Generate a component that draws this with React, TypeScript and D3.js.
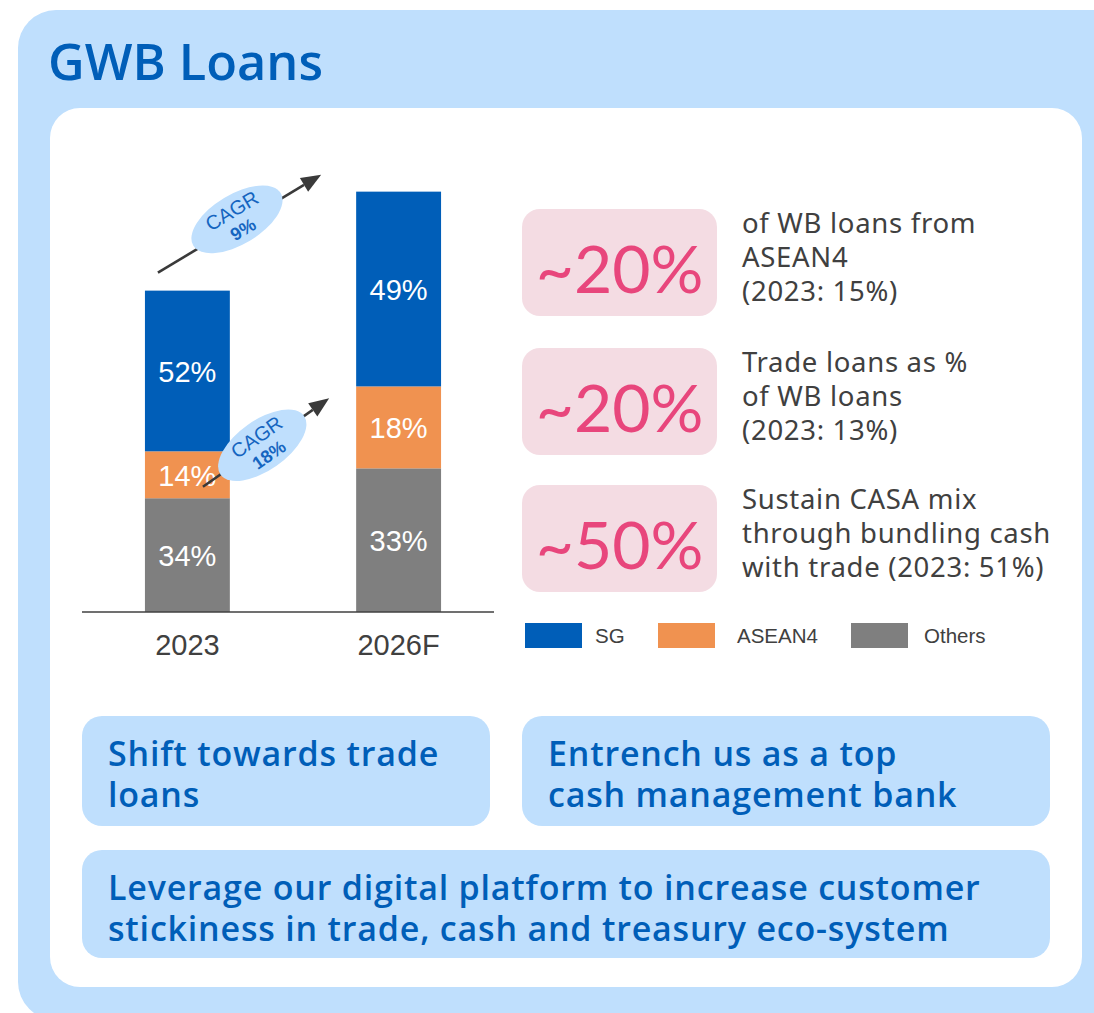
import React from 'react';
import * as d3 from 'd3';

// bar data (2023 = 100 index)
const years = ['2023', '2026F'];
const sgValues = [50.0, 60.6];
const aseanValues = [14.6, 25.5];
const otherValues = [35.4, 44.7];
const sgLabels = ['52%', '49%'];
const aseanLabels = ['14%', '18%'];
const otherLabels = ['34%', '33%'];
const cagrLabels = ['9%', '18%'];

const legendNames = ['SG', 'ASEAN4', 'Others'];
const kpiValues = ['~20%', '~20%', '~50%'];
const kpiLines = [
  ['of WB loans from', 'ASEAN4', '(2023: 15%)'],
  ['Trade loans as %', 'of WB loans', '(2023: 13%)'],
  ['Sustain CASA mix', 'through bundling cash', 'with trade (2023: 51%)'],
];
const themeLines = [
  ['Shift towards trade', 'loans'],
  ['Entrench us as a top', 'cash management bank'],
  ['Leverage our digital platform to increase customer', 'stickiness in trade, cash and treasury eco-system'],
];

const colors: Record<string, string> = { SG: '#005EB8', ASEAN4: '#F09250', Others: '#7F7F7F' };
const lightBlue = '#BFDFFD';
const darkBlue = '#005EB8';
const grey = '#404040';
const geo = 'Lato, "Noto Sans", sans-serif';
const noto = '"Noto Sans", Lato, sans-serif';
const open = '"Open Sans", "Noto Sans", sans-serif';
const arial = '"Liberation Sans", Arial, sans-serif';

const Arrow = ({ x1, y1, x2, y2, label, t = 0.5, off = 0 }: any) => {
  const ang = Math.atan2(y2 - y1, x2 - x1);
  const deg = (ang * 180) / Math.PI;
  const head = 20;
  const bx = x2 - head * Math.cos(ang);
  const by = y2 - head * Math.sin(ang);
  const nx = -Math.sin(ang), ny = Math.cos(ang);
  const tri = [
    [x2, y2],
    [bx + nx * 8, by + ny * 8],
    [bx - nx * 8, by - ny * 8],
  ];
  const cx = x1 + (x2 - x1) * t + nx * off;
  const cy = y1 + (y2 - y1) * t + ny * off;
  return (
    <g>
      <line x1={x1} y1={y1} x2={bx} y2={by} stroke="#3a3a3a" strokeWidth={2.6} />
      <polygon points={tri.map(p => p.join(',')).join(' ')} fill="#3a3a3a" />
      <g transform={`translate(${cx},${cy}) rotate(${deg})`}>
        <ellipse rx={51} ry={25} fill={lightBlue} />
        <text y={-3} textAnchor="middle" fontFamily={arial} fontSize={20} fill="#1565C0">CAGR</text>
        <text y={18} textAnchor="middle" fontFamily={arial} fontSize={18} fontWeight="bold" fill="#1565C0">{label}</text>
      </g>
    </g>
  );
};

export default function App() {
  const rows = years.map((yr, i) => ({ year: yr, Others: otherValues[i], ASEAN4: aseanValues[i], SG: sgValues[i] }));
  const keys = ['Others', 'ASEAN4', 'SG'];
  const labels: Record<string, string[]> = { Others: otherLabels, ASEAN4: aseanLabels, SG: sgLabels };
  const stacked = d3.stack<any>().keys(keys)(rows);

  const x = d3.scaleBand().domain(years).range([82, 504]).paddingInner(0.598).paddingOuter(0.298);
  const y = d3.scaleLinear().domain([0, 131]).range([612, 191]);
  const bw = x.bandwidth();

  const top = (i: number) => y(stacked[2][i][1]);
  const aseanMid = (i: number) => y((stacked[1][i][0] + stacked[1][i][1]) / 2);

  return (
    <div style={{ position: 'fixed', left: 0, top: 0 }}>
      <svg width={1094} height={1013} style={{ display: 'block', background: '#fff' }}>
        <rect x={18} y={10} width={1120} height={1010} rx={38} fill={lightBlue} />
        <text x={48} y={80} fontFamily={open} fontWeight={600} fontSize={50.5} fill={darkBlue}>GWB Loans</text>
        <rect x={50} y={108} width={1032} height={879} rx={30} fill="#fff" />

        {/* stacked bars */}
        {stacked.map(s => (
          <g key={s.key}>
            {s.map((d: any, i: number) => (
              <g key={i}>
                <rect x={x(years[i])} y={y(d[1])} width={bw} height={y(d[0]) - y(d[1])} fill={colors[s.key]} />
                <text x={(x(years[i]) as number) + bw / 2} y={(y(d[0]) + y(d[1])) / 2 + 11}
                  textAnchor="middle" fontFamily={arial} fontSize={29} fill="#fff">{labels[s.key][i]}</text>
              </g>
            ))}
          </g>
        ))}
        <line x1={82} x2={494} y1={y(0)} y2={y(0)} stroke={grey} strokeWidth={1.6} />
        {years.map(yr => (
          <text key={yr} x={(x(yr) as number) + bw / 2} y={y(0) + 43} textAnchor="middle"
            fontFamily={arial} fontSize={29} fill={grey}>{yr}</text>
        ))}

        <Arrow x1={(x('2023') as number) + 13} y1={top(0) - 18} x2={(x('2026F') as number) - 35} y2={top(1) - 17}
          label={cagrLabels[0]} t={0.5} off={-5} />
        <Arrow x1={(x('2023') as number) + 58} y1={aseanMid(0) + 12} x2={(x('2026F') as number) - 27} y2={aseanMid(1) - 29}
          label={cagrLabels[1]} t={0.47} off={0} />

        {/* KPI boxes */}
        {kpiValues.map((v, i) => {
          const ty = [209, 348, 485][i];
          return (
            <g key={i}>
              <rect x={522} y={ty} width={195} height={107} rx={18} fill="#F4DCE3" />
              <text x={619.5} y={ty + 84} textAnchor="middle" fontFamily={geo} fontSize={66} fill="#E8467C">{v}</text>
              <text x={742} y={ty + 24} fontFamily={noto} fontSize={27.5} letterSpacing={0.7} fill={grey}>
                {kpiLines[i].map((l, j) => (
                  <tspan key={j} x={742} dy={j === 0 ? 0 : 34}>{l}</tspan>
                ))}
              </text>
            </g>
          );
        })}

        {/* legend */}
        {legendNames.map((n, i) => {
          const lx = [525, 658, 851][i];
          const tx = [595, 737, 924][i];
          return (
            <g key={n}>
              <rect x={lx} y={623} width={57} height={25} fill={colors[n]} />
              <text x={tx} y={643} fontFamily={arial} fontSize={20.5} fill={grey}>{n}</text>
            </g>
          );
        })}

        {/* theme boxes */}
        {themeLines.map((lines, i) => {
          const bx = [82, 522, 82][i];
          const by = [716, 716, 850][i];
          const w = [408, 528, 968][i];
          const h = [110, 110, 108][i];
          return (
            <g key={i}>
              <rect x={bx} y={by} width={w} height={h} rx={20} fill={lightBlue} />
              <text x={bx + 26} y={by + 50} fontFamily={open} fontWeight={600} fontSize={34}
                letterSpacing={0.8} fill={darkBlue}>
                {lines.map((l, j) => (
                  <tspan key={j} x={bx + 26} dy={j === 0 ? 0 : 41}>{l}</tspan>
                ))}
              </text>
            </g>
          );
        })}
      </svg>
    </div>
  );
}
